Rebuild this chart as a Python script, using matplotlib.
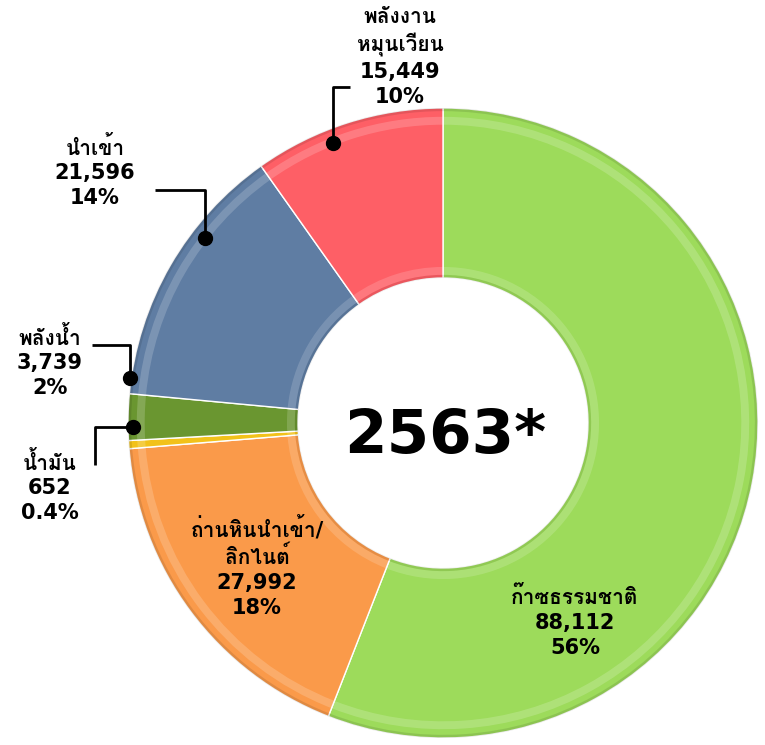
import matplotlib

matplotlib.use("Agg")
import matplotlib.pyplot as plt
from matplotlib import font_manager
from matplotlib.ft2font import FT2Font
from matplotlib.patches import Wedge

# energy mix 2563 (values in GWh) - order clockwise from the top
labels = ["ก๊าซธรรมชาติ", "ถ่านหินนำเข้า/\nลิกไนต์", "น้ำมัน", "พลังน้ำ", "นำเข้า", "พลังงาน\nหมุนเวียน"]
values = [88112, 27992, 652, 3739, 21596, 15449]
value_text = ["88,112", "27,992", "652", "3,739", "21,596", "15,449"]
pct_text = ["56%", "18%", "0.4%", "2%", "14%", "10%"]
colors = ["#9DDB5B", "#FA9A4A", "#F2C21A", "#6A9630", "#5F7DA3", "#FE5F66"]
center_title = "2563*"


def find_thai_font():
    # installed families that really have Thai glyphs, bold ones first
    found = []
    for fe in font_manager.fontManager.ttflist:
        try:
            if 0x0E01 in FT2Font(fe.fname).get_charmap():
                found.append(fe)
        except Exception:
            continue
    if not found:
        return None
    bold = [fe for fe in found if str(fe.weight) in ("bold", "700", "800", "900")]
    return (bold or found)[0].name


thai = find_thai_font()
FAMILY = ["DejaVu Sans", thai] if thai else ["DejaVu Sans"]
plt.rcParams["font.family"] = FAMILY

W, H = 765, 745
CX, CY, R, RING = 443, 423, 315, 170

fig = plt.figure(figsize=(W / 100, H / 100), dpi=100)
ax = fig.add_axes([0, 0, 1, 1])

wedges, _ = ax.pie(
    values,
    colors=colors,
    startangle=-90,
    counterclock=True,
    radius=R,
    center=(CX, CY),
    wedgeprops=dict(width=RING, edgecolor="white", linewidth=1.0),
)

# fake bevel: light rim near outer/inner edge and soft dark outer line
for w in wedges:
    t1, t2 = w.theta1, w.theta2
    ax.add_patch(Wedge((CX, CY), R * 0.972, t1, t2, width=R * 0.025,
                       facecolor="white", alpha=0.18, lw=0))
    ax.add_patch(Wedge((CX, CY), R, t1, t2, width=R * 0.01,
                       facecolor="black", alpha=0.10, lw=0))
    ax.add_patch(Wedge((CX, CY), R - RING + R * 0.035, t1, t2, width=R * 0.025,
                       facecolor="white", alpha=0.16, lw=0))
    ax.add_patch(Wedge((CX, CY), R - RING + R * 0.01, t1, t2, width=R * 0.01,
                       facecolor="black", alpha=0.08, lw=0))

ax.set_xlim(0, W)
ax.set_ylim(H, 0)
ax.set_aspect("equal")
ax.axis("off")

ax.text(CX + 2, 437, center_title, ha="center", va="center", fontsize=44,
        fontweight="bold", color="black")

txt = dict(ha="center", va="center", fontsize=15, fontweight="bold",
           color="black", linespacing=1.3)


def label(i, x, y):
    ax.text(x, y, f"{labels[i]}\n{value_text[i]}\n{pct_text[i]}", **txt)


# inside labels
label(0, 575, 622)
label(1, 257, 567)
# outside labels
label(5, 400, 57)
label(4, 95, 172)
label(3, 50, 362)
label(2, 50, 487)

# leader lines (pixel layout) with end dots
leaders = [
    [(350, 87), (333, 87), (333, 143)],
    [(155, 190), (205, 190), (205, 238)],
    [(92, 345), (130, 345), (130, 378)],
    [(95, 465), (95, 427), (133, 427)],
]
dots = [(333, 143), (205, 238), (130, 378), (133, 427)]
for path in leaders:
    xs, ys = zip(*path)
    ax.plot(xs, ys, color="black", lw=2, solid_capstyle="butt")
for x, y in dots:
    ax.plot(x, y, "o", color="black", ms=10)

fig.savefig("out.png", dpi=100, facecolor="white")
